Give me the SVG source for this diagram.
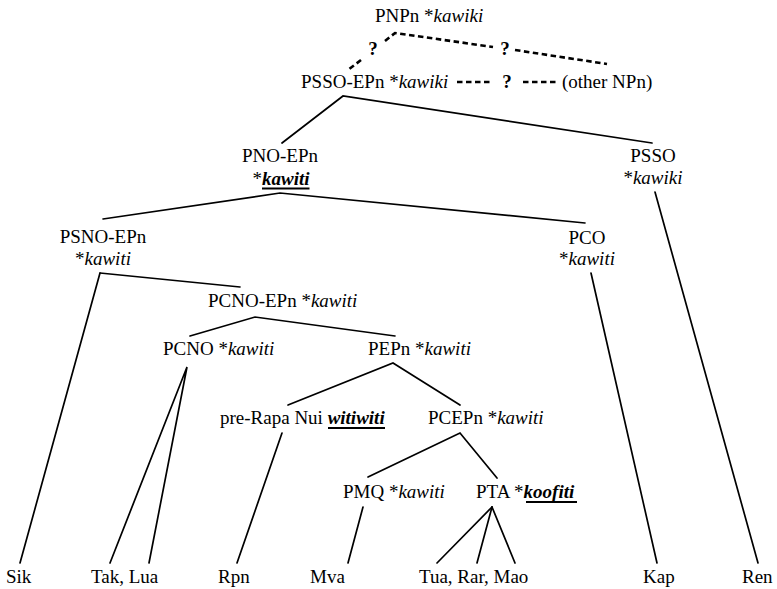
<svg xmlns="http://www.w3.org/2000/svg" width="777" height="589" viewBox="0 0 777 589" font-family="Liberation Serif, Times New Roman, serif">
  <style>
    text { font-size: 19px; fill: #000; }
    .c { text-anchor: middle; }
    .i { font-style: italic; }
    .bi { font-style: italic; font-weight: bold; }
    .q { font-weight: bold; }
    .edge { stroke: #000; stroke-width: 1.7; fill: none; stroke-linecap: round; }
    .dash { stroke: #000; stroke-width: 2.6; fill: none; stroke-dasharray: 5.5 3.5; }
    .ul { stroke: #000; stroke-width: 1.8; }
  </style>
  <rect width="777" height="589" fill="#fff"/>

  <!-- tree branches -->
  <g id="connectors">
    <!-- uncertain links at the top -->
    <path class="dash" d="M385,41 L395,33 L493,47"/>
    <path class="dash" d="M515,50 L607,64"/>
    <path class="dash" d="M361,60 L348,70"/>
    <path class="dash" d="M457,82 H492"/>
    <path class="dash" d="M523,82 H558"/>
    <!-- solid branches -->
    <polyline class="edge" points="282,143 343,96 652,143"/>
    <polyline class="edge" points="103,219 280,193 585,223"/>
    <line class="edge" x1="655" y1="192" x2="758" y2="563"/>
    <line class="edge" x1="100" y1="273" x2="20" y2="563"/>
    <line class="edge" x1="100" y1="273" x2="240" y2="287"/>
    <line class="edge" x1="591" y1="273" x2="657" y2="563"/>
    <polyline class="edge" points="190,336 255,317 395,336"/>
    <polyline class="edge" points="110,563 187,367 149,563"/>
    <polyline class="edge" points="288,405 393,363 460,405"/>
    <line class="edge" x1="282" y1="433" x2="237" y2="563"/>
    <polyline class="edge" points="368,477 460,433 497,478"/>
    <line class="edge" x1="363" y1="507" x2="348" y2="563"/>
    <line class="edge" x1="492" y1="507" x2="437" y2="563"/>
    <line class="edge" x1="492" y1="507" x2="477" y2="563"/>
    <line class="edge" x1="492" y1="507" x2="515" y2="563"/>
  </g>

  <g id="question-marks">
    <text class="q c" x="373" y="55">?</text>
    <text class="q c" x="505" y="55">?</text>
    <text class="q c" x="507" y="88">?</text>
  </g>

  <g id="PNPn"><text x="375" y="22">PNPn *<tspan class="i">kawiki</tspan></text></g>
  <g id="PSSO-EPn"><text x="301" y="88">PSSO-EPn *<tspan class="i">kawiki</tspan></text></g>
  <g id="other-NPn"><text x="562" y="88">(other NPn)</text></g>

  <g id="PNO-EPn">
    <text class="c" x="280" y="162">PNO-EPn</text>
    <text class="c" x="281" y="185">*<tspan class="bi">kawiti</tspan></text>
    <line class="ul" x1="262" y1="188.5" x2="309.5" y2="188.5"/>
  </g>
  <g id="PSSO">
    <text class="c" x="653" y="162">PSSO</text>
    <text class="c" x="653" y="184">*<tspan class="i">kawiki</tspan></text>
  </g>
  <g id="PSNO-EPn">
    <text class="c" x="103" y="243">PSNO-EPn</text>
    <text class="c" x="103" y="265">*<tspan class="i">kawiti</tspan></text>
  </g>
  <g id="PCO">
    <text class="c" x="587" y="244">PCO</text>
    <text class="c" x="587" y="265">*<tspan class="i">kawiti</tspan></text>
  </g>
  <g id="PCNO-EPn"><text x="208" y="307">PCNO-EPn *<tspan class="i">kawiti</tspan></text></g>
  <g id="PCNO"><text x="163" y="355">PCNO *<tspan class="i">kawiti</tspan></text></g>
  <g id="PEPn"><text x="368" y="355">PEPn *<tspan class="i">kawiti</tspan></text></g>
  <g id="pre-Rapa-Nui">
    <text x="220" y="424">pre-Rapa Nui <tspan class="bi">witiwiti</tspan></text>
    <line class="ul" x1="328" y1="428" x2="385" y2="428"/>
  </g>
  <g id="PCEPn"><text x="428" y="424">PCEPn *<tspan class="i">kawiti</tspan></text></g>
  <g id="PMQ"><text x="343" y="498">PMQ *<tspan class="i">kawiti</tspan></text></g>
  <g id="PTA">
    <text x="476" y="498">PTA *<tspan class="bi">koofiti</tspan></text>
    <line class="ul" x1="526" y1="502" x2="577" y2="502"/>
  </g>

  <g id="Sik"><text x="6" y="583">Sik</text></g>
  <g id="Tak-Lua"><text x="91" y="583">Tak, Lua</text></g>
  <g id="Rpn"><text x="218" y="583">Rpn</text></g>
  <g id="Mva"><text x="310" y="583">Mva</text></g>
  <g id="Tua-Rar-Mao"><text x="419" y="583">Tua, Rar, Mao</text></g>
  <g id="Kap"><text x="643" y="583">Kap</text></g>
  <g id="Ren"><text x="742" y="583">Ren</text></g>
</svg>
